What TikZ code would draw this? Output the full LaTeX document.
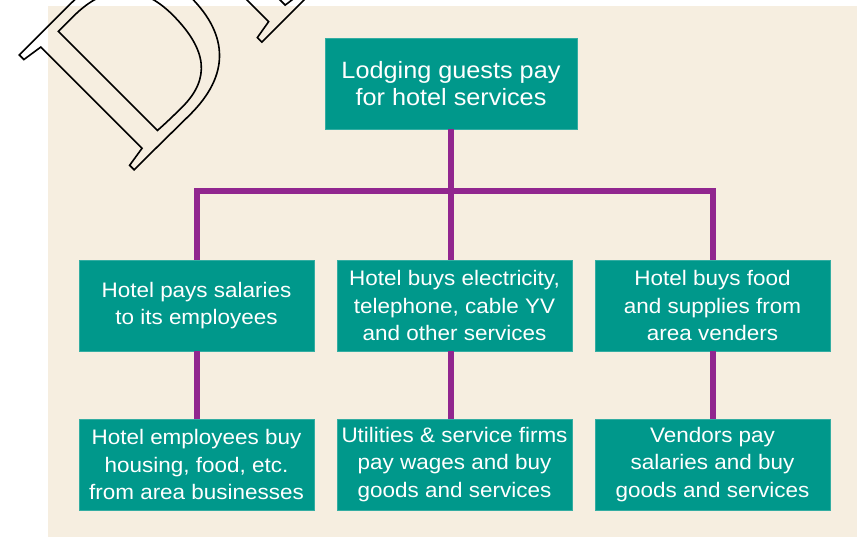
\documentclass[tikz,border=0pt]{standalone}
\usepackage{fontspec}
\setmainfont{Liberation Sans}
\newfontfamily\boxfont[FakeStretch=1.07]{Liberation Sans}
\newfontfamily\markfont{Liberation Serif}
\definecolor{bgbeige}{RGB}{246,238,224}
\definecolor{boxteal}{RGB}{0,152,139}
\definecolor{linkpurple}{RGB}{145,38,143}
\newcommand{\outlinetext}[1]{\special{pdf:literal direct 1 Tr 1.6 w 0 G}#1\special{pdf:literal direct 0 Tr}}
\begin{document}
\begin{tikzpicture}[x=1pt,y=-1pt,
  box/.style={fill=boxteal, draw=boxteal!80!white, line width=0.6pt, text=white,
    minimum width=235pt, minimum height=91pt, inner sep=0pt, align=center,
    font=\boxfont\fontsize{21}{27.5}\selectfont},
  topbox/.style={box, minimum width=252pt, font=\boxfont\fontsize{23.6}{26.7}\selectfont},
  link/.style={draw=linkpurple, line width=6pt}]
\useasboundingbox (0,0) rectangle (857,537);
\fill[bgbeige] (48,6) rectangle (857,537);
\begin{scope}
\clip (0,0) rectangle (857,537);
\node[anchor=base west, inner sep=0pt, rotate=45,
  font=\markfont\fontsize{248}{248}\selectfont] (mark) at (129,175)
  {\outlinetext{DR}};
\end{scope}
\node[topbox] (top) at (451,83.5) {Lodging guests pay\\for hotel services};
\node[box] (midL) at (196.5,305.5) {Hotel pays salaries\\to its employees};
\node[box] (midC) at (454.5,305.5) {Hotel buys electricity,\\telephone, cable YV\\and other services};
\node[box] (midR) at (712.5,305.5) {Hotel buys food\\and supplies from\\area venders};
\node[box] (botL) at (196.5,464.5) {Hotel employees buy\\housing, food, etc.\\from area businesses};
\node[box] (botC) at (454.5,464.5) {Utilities \& service firms\\pay wages and buy\\goods and services};
\node[box] (botR) at (712.5,464.5) {Vendors pay\\salaries and buy\\goods and services};
\coordinate (bar) at (451,191);
\draw[link] (top.south) -- (top.south |- midC.north);
\draw[link, line join=miter] (midL.north) -- (midL.north |- bar) -- (midR.north |- bar) -- (midR.north);
\draw[link] (midL.south) -- (botL.north);
\draw[link] (midC.south -| top.south) -- (top.south |- botC.north);
\draw[link] (midR.south) -- (botR.north);
\end{tikzpicture}
\end{document}
